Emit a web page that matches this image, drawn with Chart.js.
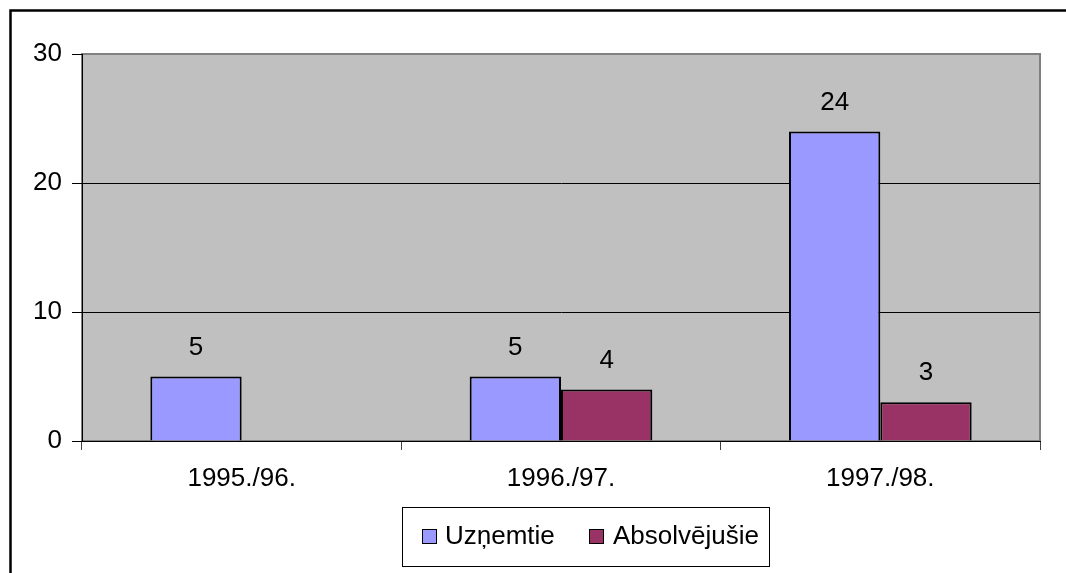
<!DOCTYPE html>
<html>
<head>
<meta charset="utf-8">
<script src="https://cdn.jsdelivr.net/npm/chart.js@4/dist/chart.umd.min.js"></script>
<style>
html,body{margin:0;padding:0;background:#fff;}
#wrap{width:1066px;height:573px;position:relative;}
</style>
</head>
<body>
<div id="wrap"><canvas id="c" width="1066" height="573"></canvas></div>
<script>
const categories = ['1995./96.', '1996./97.', '1997./98.'];
const uznemtie = [5, 5, 24];
const absolvejusie = [null, 4, 3];
const seriesNames = ['Uzņemtie', 'Absolvējušie'];
const yTicks = [0, 10, 20, 30];

const FONT = '"Liberation Sans", Arial, sans-serif';
const FS = 26;

const plotBg = {
  id: 'plotBg',
  beforeDraw(chart) {
    const {ctx, chartArea: a} = chart;
    ctx.save();
    ctx.fillStyle = '#C0C0C0';
    ctx.fillRect(a.left, a.top, a.right - a.left, a.bottom - a.top);
    ctx.strokeStyle = '#808080';
    ctx.lineWidth = 2;
    ctx.strokeRect(a.left, a.top, a.right - a.left, a.bottom - a.top);
    ctx.restore();
  }
};

const valueLabels = {
  id: 'valueLabels',
  afterDatasetsDraw(chart) {
    const ctx = chart.ctx;
    ctx.save();
    ctx.font = FS + 'px ' + FONT;
    ctx.fillStyle = '#000';
    ctx.textAlign = 'center';
    ctx.textBaseline = 'middle';
    chart.data.datasets.forEach((ds, di) => {
      const meta = chart.getDatasetMeta(di);
      meta.data.forEach((el, i) => {
        const v = ds.data[i];
        if (v === null || v === undefined) return;
        ctx.fillText(String(v), el.x, el.y - 29);
      });
    });
    ctx.restore();
  }
};

const frameAndLegend = {
  id: 'frameAndLegend',
  afterDraw(chart) {
    const ctx = chart.ctx;
    ctx.save();
    // outer frame
    ctx.strokeStyle = '#000';
    ctx.lineWidth = 2.5;
    ctx.strokeRect(10.5, 10.5, 1200, 700);
    // legend box
    ctx.lineWidth = 1;
    ctx.strokeRect(402.5, 507.5, 367, 59);
    const items = [{x: 422, tx: 445}, {x: 589, tx: 613}];
    ctx.font = FS + 'px ' + FONT;
    ctx.textBaseline = 'middle';
    ctx.textAlign = 'left';
    chart.data.datasets.forEach((ds, i) => {
      const it = items[i];
      ctx.fillStyle = ds.backgroundColor;
      ctx.fillRect(it.x, 529, 15, 15);
      ctx.strokeStyle = '#000';
      ctx.lineWidth = 1;
      ctx.strokeRect(it.x + 0.5, 529.5, 14, 14);
      ctx.fillStyle = '#000';
      ctx.fillText(ds.label, it.tx, 537);
    });
    ctx.restore();
  }
};

new Chart(document.getElementById('c'), {
  type: 'bar',
  data: {
    labels: categories,
    datasets: [
      {label: seriesNames[0], data: uznemtie, backgroundColor: '#9999FF', borderColor: '#000', borderWidth: 2},
      {label: seriesNames[1], data: absolvejusie, backgroundColor: '#993366', borderColor: '#000', borderWidth: 2}
    ]
  },
  options: {
    responsive: false,
    animation: false,
    events: [],
    layout: {padding: {left: 10, top: 54, right: 26, bottom: 0}},
    categoryPercentage: 0.572,
    barPercentage: 1,
    plugins: {legend: {display: false}, tooltip: {enabled: false}},
    scales: {
      x: {
        offset: true,
        grid: {offset: true, drawOnChartArea: false, drawTicks: true, tickLength: 9, color: '#404040', lineWidth: 1},
        border: {display: true, color: '#000', width: 1},
        ticks: {color: '#000', font: {family: FONT, size: FS}, padding: 13, maxRotation: 0, autoSkip: false},
        afterFit(s) { s.height = 132; s.paddingLeft = 0; s.paddingRight = 0; }
      },
      y: {
        min: 0, max: 30,
        afterBuildTicks(s) { s.ticks = yTicks.map(v => ({value: v})); },
        grid: {
          color: (c) => (c.tick && c.tick.value === 30) ? '#808080' : '#000',
          tickColor: '#000',
          tickLength: 10, lineWidth: 1
        },
        border: {display: true, color: '#000', width: 1},
        ticks: {color: '#000', font: {family: FONT, size: FS}, padding: 10},
        afterFit(s) { s.width = 72; s.paddingTop = 0; s.paddingBottom = 0; }
      }
    }
  },
  plugins: [plotBg, valueLabels, frameAndLegend]
});
</script>
</body>
</html>
